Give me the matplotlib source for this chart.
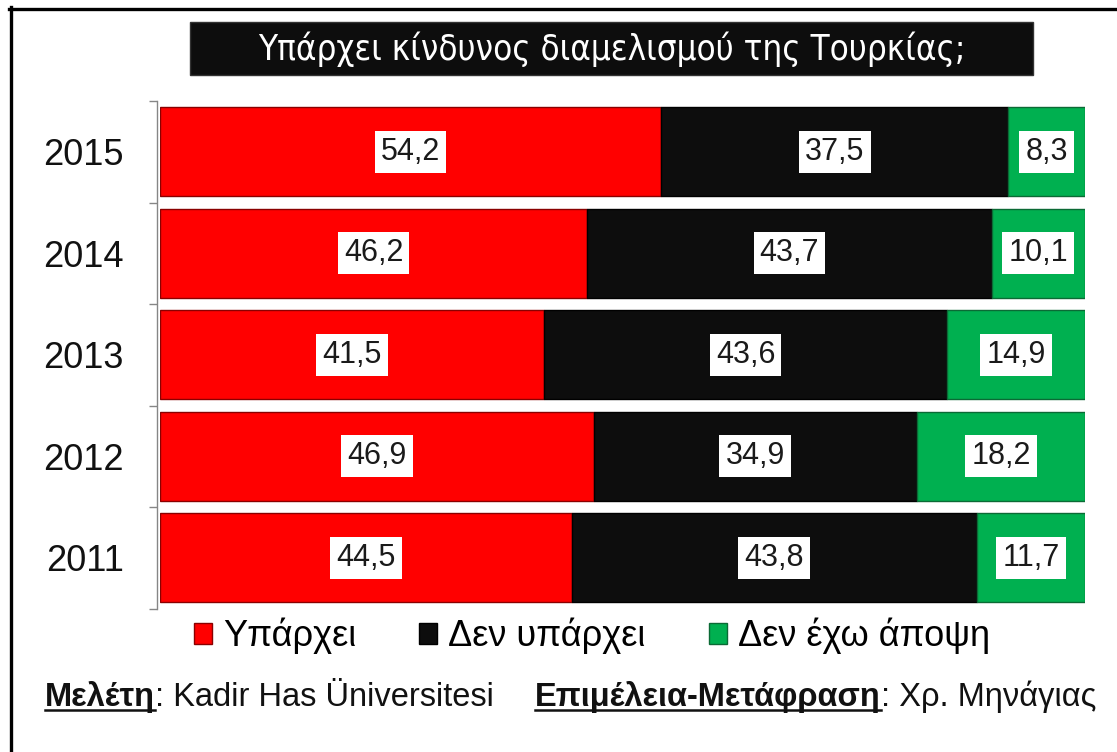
import matplotlib
matplotlib.use('Agg')
import matplotlib.pyplot as plt
from matplotlib.lines import Line2D
from matplotlib.patches import Rectangle
import numpy as np

# ---------------- data ----------------
years = ['2015', '2014', '2013', '2012', '2011']
yes_vals = [54.2, 46.2, 41.5, 46.9, 44.5]
no_vals = [37.5, 43.7, 43.6, 34.9, 43.8]
noop_vals = [8.3, 10.1, 14.9, 18.2, 11.7]
series_names = ['Υπάρχει', 'Δεν υπάρχει', 'Δεν έχω άποψη']
title_text = 'Υπάρχει κίνδυνος διαμελισμού της Τουρκίας;'
footer_left = [('Μελέτη', True), (': Kadir Has Üniversitesi', False)]
footer_right = [('Επιμέλεια-Μετάφραση', True), (': Χρ. Μηνάγιας', False)]

# ---------------- style ----------------
colors = ['#ff0000', '#0d0d0d', '#00b050']
edges = ['#8a0000', '#000000', '#0b6a35']
plt.rcParams['font.family'] = ['Liberation Sans', 'DejaVu Sans']

W, H = 1117, 752
fig = plt.figure(figsize=(W / 100, H / 100), dpi=100)
fig.patch.set_facecolor('white')

def fx(px):
    return px / W

def fy(py):
    return 1 - py / H

ax = fig.add_axes([fx(160), fy(608.5), fx(1085) - fx(160), fy(101) - fy(608.5)])

y = np.arange(len(years))
series = [yes_vals, no_vals, noop_vals]
left = np.zeros(len(years))
containers = []
for vals, name, c, e in zip(series, series_names, colors, edges):
    vals = np.array(vals)
    bc = ax.barh(y, vals, left=left, height=0.875, color=c, edgecolor=e,
                 linewidth=1.0, label=name)
    containers.append(bc)
    for yi, l, v in zip(y, left, vals):
        ax.text(l + v / 2, yi, f'{v:.1f}'.replace('.', ','), ha='center', va='center',
                fontsize=22, color='#1a1a1a',
                bbox=dict(boxstyle='square,pad=0.2', fc='white', ec='none'))
    left = left + vals

ax.set_xlim(0, 100)
ax.set_ylim(len(years) - 0.5, -0.5)
ax.set_xticks([])
ax.set_yticks(y)
ax.set_yticklabels(years)
ax.set_yticks(np.arange(-0.5, len(years), 1), minor=True)
ax.tick_params(axis='y', which='major', length=0, pad=24, labelsize=26,
               labelcolor='#111111')
ax.tick_params(axis='y', which='minor', length=6, width=1, color='#868686')
for s in ['top', 'right', 'bottom']:
    ax.spines[s].set_visible(False)
ax.spines['left'].set_color('#868686')
ax.spines['left'].set_linewidth(1.0)
ax.spines['left'].set_position(('outward', 2))
ax.set_facecolor('none')

# ---------------- frame lines ----------------
fig.add_artist(Line2D([fx(9), 1], [fy(8.5), fy(8.5)], lw=2.4, color='black'))
fig.add_artist(Line2D([fx(10.5), fx(10.5)], [0, fy(7)], lw=2.4, color='black'))

# ---------------- title box ----------------
fig.add_artist(Rectangle((fx(190), fy(75)), fx(1033) - fx(190), fy(22) - fy(75),
                         transform=fig.transFigure, facecolor='#0d0d0d',
                         edgecolor='#333333', lw=1))
fig.text(fx(611.5), fy(49), title_text, ha='center', va='center', color='white',
         fontsize=25, family=['DejaVu Sans'], fontstretch='condensed')

# ---------------- legend ----------------
fig.legend(handles=containers, labels=series_names, loc='center',
           bbox_to_anchor=(fx(592), fy(636)), ncol=3, frameon=False,
           fontsize=26, handlelength=0.5, handleheight=0.5,
           handletextpad=0.3, columnspacing=1.75, borderpad=0)

# ---------------- footer ----------------
fig.canvas.draw()
renderer = fig.canvas.get_renderer()

def place(parts, x_px, base_px, size):
    x = x_px
    for txt, bold in parts:
        t = fig.text(fx(x), fy(base_px), txt, ha='left', va='baseline',
                     fontsize=size, color='#111111',
                     fontweight='bold' if bold else 'normal')
        ext = t.get_window_extent(renderer)
        if bold:
            uy = fy(base_px + 4)
            fig.add_artist(Line2D([ext.x0 / W, ext.x1 / W], [uy, uy], lw=1.8,
                                  color='#111111'))
        x = ext.x1

place(footer_left, 45, 706, 23.5)
place(footer_right, 535, 706, 23.5)

fig.savefig('out.png', dpi=100)
